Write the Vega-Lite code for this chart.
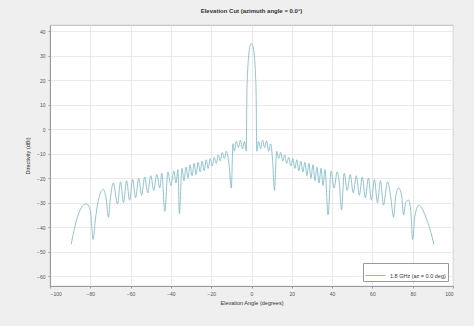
{
  "$schema": "https://vega.github.io/schema/vega-lite/v6.json",
  "width": 403,
  "height": 261,
  "autosize": {"type": "none"},
  "padding": {"left": 50, "top": 25, "right": 21, "bottom": 40},
  "background": "#efefef",
  "title": {"text": "Elevation Cut (azimuth angle = 0.0°)", "fontSize": 6, "fontWeight": "bold", "color": "#333", "font": "Liberation Sans", "offset": 11, "anchor": "middle"},
  "config": {
    "view": {"fill": "white", "stroke": "#a8a8a8", "strokeWidth": 0.8},
    "font": "Liberation Sans",
    "axis": {"labelFontSize": 5, "labelColor": "#555", "titleFontSize": 5.5, "titleColor": "#333", "titleFontWeight": "normal", "gridColor": "#e4e4e4", "gridWidth": 0.8, "domainColor": "#999", "tickColor": "#999", "tickSize": 2}
  },
  "data": {"values": [
    {"x": -89.5, "y": -47}, {"x": -88, "y": -41}, {"x": -86, "y": -35}, {"x": -84, "y": -31.5}, {"x": -82, "y": -30.5}, {"x": -80, "y": -33}, {"x": -78.6, "y": -45}, {"x": -77.5, "y": -37}, {"x": -76, "y": -29}, {"x": -73.6, "y": -24.5}, {"x": -72.2, "y": -28}, {"x": -71, "y": -36}, {"x": -70, "y": -28}, {"x": -68.6, "y": -22}, {"x": -66.5, "y": -30.5}, {"x": -65, "y": -21.5}, {"x": -63.5, "y": -30}, {"x": -62, "y": -21}, {"x": -60.5, "y": -29}, {"x": -59, "y": -20.5}, {"x": -57.5, "y": -28}, {"x": -56, "y": -20}, {"x": -54.5, "y": -27}, {"x": -53, "y": -19.5}, {"x": -51.5, "y": -26}, {"x": -50, "y": -19}, {"x": -48.5, "y": -25}, {"x": -47, "y": -18.5}, {"x": -45.5, "y": -24}, {"x": -44.5, "y": -18}, {"x": -43, "y": -33.5}, {"x": -41.5, "y": -17.5}, {"x": -40, "y": -23}, {"x": -38.5, "y": -17}, {"x": -37.5, "y": -22}, {"x": -36.5, "y": -16.5}, {"x": -35.8, "y": -34.5}, {"x": -34.5, "y": -16}, {"x": -33.5, "y": -21}, {"x": -32.5, "y": -15.5}, {"x": -31.5, "y": -20}, {"x": -30.5, "y": -14.5}, {"x": -29.5, "y": -19}, {"x": -28.5, "y": -14}, {"x": -27.5, "y": -18.5}, {"x": -26.5, "y": -13.5}, {"x": -25.5, "y": -17.5}, {"x": -24.5, "y": -13}, {"x": -23.5, "y": -17}, {"x": -22.5, "y": -12.5}, {"x": -21.5, "y": -16}, {"x": -20.5, "y": -12}, {"x": -19.5, "y": -15}, {"x": -18.5, "y": -11.5}, {"x": -17.5, "y": -14}, {"x": -16.5, "y": -10.5}, {"x": -15.5, "y": -13}, {"x": -14.5, "y": -9.5}, {"x": -13.5, "y": -12}, {"x": -12.5, "y": -9}, {"x": -11.2, "y": -14}, {"x": -10, "y": -24}, {"x": -9.2, "y": -6}, {"x": -8.5, "y": -9}, {"x": -7.5, "y": -5}, {"x": -6.5, "y": -7.5}, {"x": -5.5, "y": -4.5}, {"x": -4.5, "y": -8}, {"x": -3.5, "y": -5}, {"x": -2.6, "y": -9}, {"x": -2.3, "y": 14}, {"x": -2, "y": 22}, {"x": -1.5, "y": 29}, {"x": -1, "y": 32.6}, {"x": -0.5, "y": 34.4}, {"x": 0, "y": 35},
    {"x": 0.5, "y": 34.4}, {"x": 1, "y": 32.6}, {"x": 1.5, "y": 29}, {"x": 2, "y": 22}, {"x": 2.3, "y": 14}, {"x": 2.6, "y": -9}, {"x": 3.5, "y": -5}, {"x": 4.5, "y": -8}, {"x": 5.5, "y": -4.5}, {"x": 6.5, "y": -7.5}, {"x": 7.5, "y": -4.8}, {"x": 8.5, "y": -9}, {"x": 9.5, "y": -6}, {"x": 10.4, "y": -12}, {"x": 11.4, "y": -25}, {"x": 12.5, "y": -9}, {"x": 13.5, "y": -12}, {"x": 14.5, "y": -9.5}, {"x": 15.5, "y": -13}, {"x": 16.5, "y": -10.5}, {"x": 17.5, "y": -14}, {"x": 18.5, "y": -11.5}, {"x": 19.5, "y": -15}, {"x": 20.5, "y": -12}, {"x": 21.5, "y": -16}, {"x": 22.5, "y": -12.5}, {"x": 23.5, "y": -17}, {"x": 24.5, "y": -13}, {"x": 25.5, "y": -17.5}, {"x": 26.5, "y": -13.5}, {"x": 27.5, "y": -19}, {"x": 28.5, "y": -14}, {"x": 29.5, "y": -20}, {"x": 30.5, "y": -14.5}, {"x": 31.5, "y": -21}, {"x": 32.5, "y": -15.5}, {"x": 33.5, "y": -22}, {"x": 34.5, "y": -16}, {"x": 35.5, "y": -23}, {"x": 36.5, "y": -16.5}, {"x": 38, "y": -35}, {"x": 39.5, "y": -17}, {"x": 41, "y": -24}, {"x": 42.5, "y": -17.5}, {"x": 43.6, "y": -22}, {"x": 44.7, "y": -33}, {"x": 46, "y": -18}, {"x": 47.5, "y": -25}, {"x": 49, "y": -18.5}, {"x": 50.5, "y": -26}, {"x": 52, "y": -19}, {"x": 53.5, "y": -27}, {"x": 55, "y": -19.5}, {"x": 56.5, "y": -28}, {"x": 58, "y": -20}, {"x": 59.5, "y": -29}, {"x": 61, "y": -20.5}, {"x": 62.5, "y": -30}, {"x": 64, "y": -21}, {"x": 65.5, "y": -31}, {"x": 67.5, "y": -21.5}, {"x": 69, "y": -27}, {"x": 70.5, "y": -36}, {"x": 71.5, "y": -28}, {"x": 73, "y": -24}, {"x": 74.5, "y": -27}, {"x": 75.5, "y": -35}, {"x": 76.5, "y": -30}, {"x": 78, "y": -29}, {"x": 79, "y": -33}, {"x": 80, "y": -45}, {"x": 81, "y": -36}, {"x": 83, "y": -31}, {"x": 85, "y": -33}, {"x": 87, "y": -37}, {"x": 89, "y": -42}, {"x": 90.5, "y": -47}
  ]},
  "mark": {"type": "line", "strokeWidth": 0.9, "interpolate": "monotone", "clip": true},
  "encoding": {
    "x": {"field": "x", "type": "quantitative", "scale": {"domain": [-100, 100], "nice": false}, "axis": {"values": [-100, -80, -60, -40, -20, 0, 20, 40, 60, 80, 100], "title": "Elevation Angle (degrees)", "titlePadding": 4, "labelPadding": 3}},
    "y": {"field": "y", "type": "quantitative", "scale": {"domain": [-64, 42.5], "nice": false, "zero": false}, "axis": {"values": [-60, -50, -40, -30, -20, -10, 0, 10, 20, 30, 40], "title": "Directivity (dBi)", "titlePadding": 6, "labelPadding": 3}},
    "color": {"datum": "1.8 GHz (az = 0.0 deg)", "type": "nominal", "scale": {"range": ["#86bccb"]}, "legend": {"title": null, "orient": "bottom-right", "offset": 5, "fillColor": "white", "strokeColor": "#999", "padding": 2, "labelFontSize": 5.5, "labelColor": "#333", "symbolType": "stroke", "symbolSize": 400, "symbolStrokeWidth": 1}}
  }
}
